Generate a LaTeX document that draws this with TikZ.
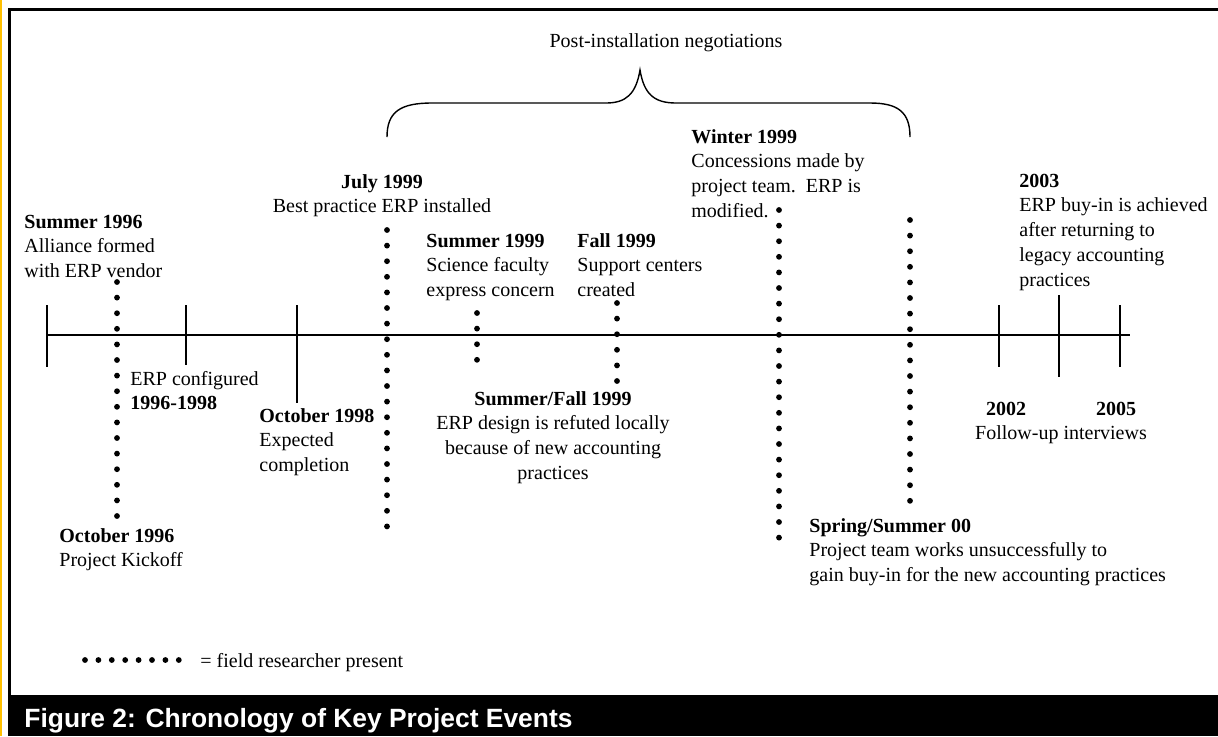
\documentclass[tikz,border=0pt]{standalone}
\usepackage{fontspec}
\setmainfont{Liberation Serif}
\setsansfont{Liberation Sans}
\usepackage{xcolor}
\colorlet{colorFrame}{black}
\definecolor{colorEdge}{HTML}{FFC000}
\colorlet{colorCaption}{white}
\usetikzlibrary{positioning}
\tikzset{
  event/.style={inner sep=0pt, align=left, anchor=base west, font=\fontsize{10}{12.4}\selectfont},
  eventc/.style={event, align=center, anchor=base},
  yeartick/.style={line width=0.8pt},
  brace/.style={line width=0.7pt},
  fieldline/.style={line width=2.9pt, line cap=round, dash pattern=on 0pt off 7.8pt},
}

\begin{document}
\begin{tikzpicture}[x=0.5pt, y=-0.5pt]
\useasboundingbox (0,0) rectangle (1218,736);
% frame and caption
\fill[white] (0,0) rectangle (1218,736);
\draw[colorEdge, line width=1pt] (1,0) -- (1,736);
\draw[colorFrame, line width=1.5pt] (9.5,736) -- (9.5,9.5) -- (1218,9.5);
\fill[colorFrame] (9,695) rectangle (1218,736);
\node[anchor=base west, inner sep=0pt, text=colorCaption, font=\fontsize{13.2}{15}\selectfont\sffamily\bfseries] (caption) at (24,727) {Figure 2: Chronology of Key Project Events};

% time axis
\coordinate (axisL) at (47,335);
\coordinate (axisR) at (1130,335);
\draw[yeartick] (axisL) -- (axisR);
\foreach \tx/\ttop/\tbot in {47/305/367, 186/305/365, 297/305/403, 999/305/367, 1059/295/377, 1120/305/367}
  \draw[yeartick] (\tx,\ttop) -- (\tx,\tbot);

% field researcher present
\foreach \nm/\dx/\dtop/\n in {s96/117/282/15, j99/387/230/19, s99/477/313/3, f99/617/303/5, w99/779/210/21, ss00/910/220/18} {
  \coordinate (\nm top) at (\dx,\dtop);
  \coordinate (\nm bot) at (\dx,{\dtop+\n*15.6+0.5});
  \draw[fieldline] (\nm top) -- (\nm bot);
}

% brace
\node[eventc] (negot) at (666,47) {Post-installation negotiations};
\draw[brace] (387,137) .. controls (387,112) and (400,103) .. (432,103) -- (606,103)
  .. controls (626,103) and (636,94) .. (640,70)
  .. controls (644,94) and (654,103) .. (676,103) -- (870,103)
  .. controls (898,103) and (910,112) .. (910,137);

% events (anchored at the baseline of the last line)
\node[event] (s96) at (24,277.6) {\textbf{Summer 1996}\\Alliance formed\\with ERP vendor};
\node[event] (cfg) at (130,409.8) {ERP configured\\\textbf{1996-1998}};
\node[event] (o96) at (59,566.8) {\textbf{October 1996}\\Project Kickoff};
\node[event] (o98) at (259,471.6) {\textbf{October 1998}\\Expected\\completion};
\node[eventc] (j99) at (382,212.8) {\textbf{July 1999}\\Best practice ERP installed};
\node[event] (s99) at (426,296.6) {\textbf{Summer 1999}\\Science faculty\\express concern};
\node[event] (f99) at (577,296.6) {\textbf{Fall 1999}\\Support centers\\created};
\node[eventc] (sf99) at (553,479.4) {\textbf{Summer/Fall 1999}\\ERP design is refuted locally\\because of new accounting\\practices};
\node[event] (w99) at (691,217.4) {\textbf{Winter 1999}\\Concessions made by\\project team.\ \ ERP is\\modified.};
\node[event] (ss00) at (809,581.6) {\textbf{Spring/Summer 00}\\Project team works unsuccessfully to\\gain buy-in for the new accounting practices};
\node[event] (y03) at (1019,286.2) {\textbf{2003}\\ERP buy-in is achieved\\after returning to\\legacy accounting\\practices};
\node[eventc] (y0205) at (1061,439.8) {\textbf{2002}\hspace{35pt}\textbf{2005}\\Follow-up interviews};

% legend
\coordinate (legA) at (85,660);
\coordinate (legB) at (179.3,660);
\draw[fieldline, dash pattern=on 0pt off 6.7pt] (legA) -- (legB);
\node[event] (legtext) at (200,667) {= field researcher present};
\end{tikzpicture}
\end{document}
